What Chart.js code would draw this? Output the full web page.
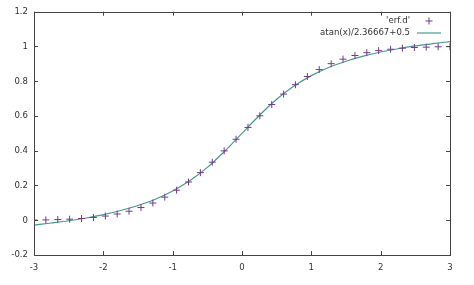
<!DOCTYPE html>
<html>
<head>
<meta charset="utf-8">
<script src="https://cdn.jsdelivr.net/npm/chart.js@4/dist/chart.umd.min.js"></script>
<style>
  html, body { margin: 0; padding: 0; background: #fff; }
  #wrap { width: 474px; height: 285px; position: relative; }
</style>
</head>
<body>
<div id="wrap"><canvas id="plot"></canvas></div>
<script>
// 'erf.d' samples (36 points, -3 .. 3)
const erfX = [-3.000, -2.829, -2.657, -2.486, -2.314, -2.143, -1.971, -1.800, -1.629, -1.457, -1.286, -1.114,
              -0.943, -0.771, -0.600, -0.429, -0.257, -0.086, 0.086, 0.257, 0.429, 0.600, 0.771, 0.943,
              1.114, 1.286, 1.457, 1.629, 1.800, 1.971, 2.143, 2.314, 2.486, 2.657, 2.829, 3.000];
const erfY = [0.001, 0.002, 0.004, 0.006, 0.010, 0.016, 0.024, 0.036, 0.052, 0.073, 0.099, 0.133,
              0.173, 0.220, 0.274, 0.334, 0.399, 0.466, 0.534, 0.601, 0.666, 0.726, 0.780, 0.827,
              0.867, 0.901, 0.927, 0.948, 0.964, 0.976, 0.984, 0.990, 0.994, 0.996, 0.998, 0.999];

// fitted curve atan(x)/2.36667+0.5
const fitX = [-3, -2.75, -2.5, -2.25, -2, -1.75, -1.5, -1.25, -1, -0.75, -0.5, -0.25, 0,
              0.25, 0.5, 0.75, 1, 1.25, 1.5, 1.75, 2, 2.25, 2.5, 2.75, 3];
const fitY = [-0.028, -0.016, -0.003, 0.013, 0.032, 0.056, 0.085, 0.121, 0.168, 0.228, 0.304, 0.397, 0.5,
              0.603, 0.696, 0.772, 0.832, 0.879, 0.915, 0.944, 0.968, 0.987, 1.003, 1.016, 1.028];

const xTicks = [-3, -2, -1, 0, 1, 2, 3];
const yTicks = [-0.2, 0, 0.2, 0.4, 0.6, 0.8, 1, 1.2];

const FAMILY = '"DejaVu Sans Condensed", "Liberation Sans", sans-serif';
const FONT = '9.5px ' + FAMILY;
const AXIS = '#444';

// gnuplot-like frame: border box, inward ticks on all four sides, key top right
const framePlugin = {
  id: 'frame',
  afterDatasetsDraw(chart) {
    const { ctx, chartArea: a, scales } = chart;
    ctx.save();
    ctx.strokeStyle = AXIS;
    ctx.lineWidth = 1;
    ctx.beginPath();
    xTicks.forEach(v => {
      const px = Math.round(scales.x.getPixelForValue(v)) + 0.5;
      ctx.moveTo(px, a.bottom); ctx.lineTo(px, a.bottom - 4);
      ctx.moveTo(px, a.top); ctx.lineTo(px, a.top + 4);
    });
    yTicks.forEach(v => {
      const py = Math.round(scales.y.getPixelForValue(v)) + 0.5;
      ctx.moveTo(a.left, py); ctx.lineTo(a.left + 4, py);
      ctx.moveTo(a.right, py); ctx.lineTo(a.right - 4, py);
    });
    ctx.stroke();
    ctx.strokeRect(Math.round(a.left) + 0.5, Math.round(a.top) + 0.5,
                   Math.round(a.right - a.left), Math.round(a.bottom - a.top));

    // key
    ctx.font = FONT;
    ctx.fillStyle = '#333';
    ctx.textAlign = 'right';
    ctx.textBaseline = 'middle';
    const textRight = 410, sx0 = 417, sx1 = 441;
    chart.data.datasets.forEach((ds, i) => {
      const y = 21 + i * 12;
      ctx.fillText(ds.label, textRight, y);
      ctx.strokeStyle = ds.borderColor;
      ctx.lineWidth = ds.borderWidth;
      ctx.beginPath();
      if (ds.showLine === false) {
        const cx = (sx0 + sx1) / 2;
        ctx.moveTo(cx - 3.5, y); ctx.lineTo(cx + 3.5, y);
        ctx.moveTo(cx, y - 3.5); ctx.lineTo(cx, y + 3.5);
      } else {
        ctx.moveTo(sx0, y); ctx.lineTo(sx1, y);
      }
      ctx.stroke();
    });
    ctx.restore();
  }
};

new Chart(document.getElementById('plot'), {
  type: 'scatter',
  data: {
    datasets: [
      {
        label: "'erf.d'",
        data: erfX.map((x, i) => ({ x, y: erfY[i] })),
        showLine: false,
        pointStyle: 'cross',
        pointRadius: 3.5,
        pointBorderWidth: 1,
        borderWidth: 1,
        borderColor: '#733a8c',
        backgroundColor: '#733a8c',
        order: 1
      },
      {
        label: 'atan(x)/2.36667+0.5',
        data: fitX.map((x, i) => ({ x, y: fitY[i] })),
        showLine: true,
        pointRadius: 0,
        borderWidth: 1.2,
        borderColor: '#4a9a8c',
        backgroundColor: '#4a9a8c',
        cubicInterpolationMode: 'monotone',
        order: 2
      }
    ]
  },
  options: {
    responsive: true,
    maintainAspectRatio: false,
    animation: false,
    devicePixelRatio: 1,
    layout: { padding: { top: 10, right: 24, left: 0, bottom: 0 } },
    plugins: { legend: { display: false }, tooltip: { enabled: false } },
    scales: {
      x: {
        type: 'linear',
        min: -3, max: 3,
        afterFit: s => { s.height = 30; },
        afterBuildTicks: s => { s.ticks = xTicks.map(value => ({ value })); },
        grid: { display: false, drawTicks: false },
        border: { display: false },
        ticks: {
          padding: 7,
          color: '#333',
          font: { family: FAMILY, size: 9.5 },
          callback: v => String(v)
        }
      },
      y: {
        type: 'linear',
        min: -0.2, max: 1.2,
        afterFit: s => { s.width = 34; },
        afterBuildTicks: s => { s.ticks = yTicks.map(value => ({ value })); },
        grid: { display: false, drawTicks: false },
        border: { display: false },
        ticks: {
          padding: 6,
          color: '#333',
          font: { family: FAMILY, size: 9.5 },
          callback: v => String(Math.round(v * 10) / 10)
        }
      }
    }
  },
  plugins: [framePlugin]
});
</script>
</body>
</html>
